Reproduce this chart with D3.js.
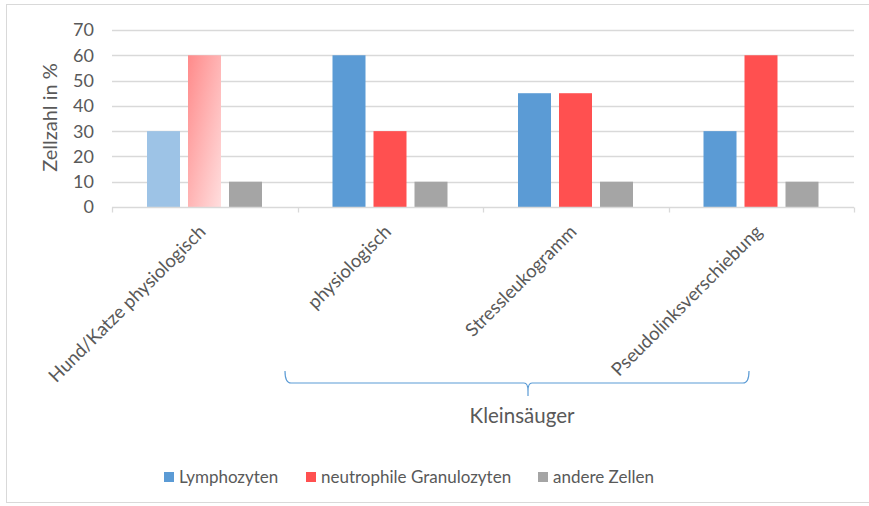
<!DOCTYPE html>
<html>
<head>
<meta charset="utf-8">
<script src="https://cdn.jsdelivr.net/npm/d3@7"></script>
<style>
  html, body { margin: 0; padding: 0; background: #fff; }
  svg { display: block; }
  text { font-family: Lato, "Open Sans", sans-serif; fill: #595959; }
</style>
</head>
<body>
<svg id="chart" width="869" height="506"></svg>
<script>
// Differential blood count: share of cell types per group
const categories = ["Hund/Katze physiologisch", "physiologisch", "Stressleukogramm", "Pseudolinksverschiebung"];
const seriesNames = ["Lymphozyten", "neutrophile Granulozyten", "andere Zellen"];
const lymphozyten = [30, 60, 45, 30];
const neutrophile = [60, 30, 45, 60];
const andere = [10, 10, 10, 10];
const yTicks = [0, 10, 20, 30, 40, 50, 60, 70];
const groupLabel = "Kleinsäuger";
const yTitle = "Zellzahl in %";

const colors = ["#5B9BD5", "#FF5050", "#A5A5A5"];

const svg = d3.select("#chart");

// Outer chart frame
svg.append("rect")
  .attr("x", 6.5).attr("y", 4.5).attr("width", 870).attr("height", 498)
  .attr("fill", "none").attr("stroke", "#D9D9D9").attr("stroke-width", 1);

const plot = { left: 112, right: 854, top: 30, bottom: 207 };

const x = d3.scaleBand().domain(categories).range([plot.left, plot.right]);
// bars inside each category band: 33px wide, 8px apart, centred
const xInner = d3.scaleBand().domain(d3.range(seriesNames.length))
  .range([35, 150]).paddingInner(8 / 41).paddingOuter(0);
const y = d3.scaleLinear().domain([0, 70]).range([plot.bottom, plot.top]);

// Gradient for the highlighted neutrophil bar of the first group
const defs = svg.append("defs");
const grad = defs.append("linearGradient").attr("id", "pinkGrad")
  .attr("x1", "0%").attr("y1", "0%").attr("x2", "100%").attr("y2", "100%");
grad.append("stop").attr("offset", "0%").attr("stop-color", "#FF8A8A");
grad.append("stop").attr("offset", "100%").attr("stop-color", "#FFDEDE");

// Gridlines
svg.append("g").selectAll("line").data(yTicks.filter(t => t > 0)).join("line")
  .attr("x1", plot.left).attr("x2", plot.right)
  .attr("y1", d => Math.round(y(d)) + 0.5).attr("y2", d => Math.round(y(d)) + 0.5)
  .attr("stroke", "#D9D9D9").attr("stroke-width", 1.3);

// Y tick labels
svg.append("g").selectAll("text").data(yTicks).join("text")
  .attr("x", 94).attr("y", d => y(d)).attr("dy", "0.36em")
  .attr("text-anchor", "end").attr("font-size", 18).text(d => d);

// Y axis title
svg.append("text")
  .attr("transform", `translate(57,${(plot.top + plot.bottom) / 2 - 1}) rotate(-90)`)
  .attr("text-anchor", "middle").attr("font-size", 20).text(yTitle);

// Bars
const seriesData = [lymphozyten, neutrophile, andere];
categories.forEach((cat, ci) => {
  seriesData.forEach((vals, si) => {
    let fill = colors[si];
    if (ci === 0 && si === 0) fill = "#9DC3E6";
    if (ci === 0 && si === 1) fill = "url(#pinkGrad)";
    svg.append("rect")
      .attr("x", x(cat) + xInner(si))
      .attr("y", y(vals[ci]))
      .attr("width", xInner.bandwidth())
      .attr("height", y(0) - y(vals[ci]))
      .attr("fill", fill);
  });
});

// X axis line and ticks
const axisY = Math.round(y(0)) + 0.5;
svg.append("line").attr("x1", plot.left).attr("x2", plot.right)
  .attr("y1", axisY).attr("y2", axisY).attr("stroke", "#D9D9D9").attr("stroke-width", 1.3);
const tickXs = categories.map(c => x(c)).concat([plot.right]);
svg.append("g").selectAll("line").data(tickXs).join("line")
  .attr("x1", d => Math.round(d) + 0.5).attr("x2", d => Math.round(d) + 0.5)
  .attr("y1", axisY).attr("y2", axisY + 5)
  .attr("stroke", "#D9D9D9").attr("stroke-width", 1.3);

// Rotated category labels
svg.append("g").selectAll("text").data(categories).join("text")
  .attr("transform", d => `translate(${x(d) + x.bandwidth() / 2 + 2},${plot.bottom + 26}) rotate(-45)`)
  .attr("text-anchor", "end").attr("font-size", 18.5).text(d => d);

// Brace grouping the last three categories
const bx0 = 285, bx1 = 749;
const braceMid = 528;
const by = 383;
const brace = d3.path();
brace.moveTo(bx0, 371);
brace.quadraticCurveTo(bx0, by, bx0 + 6, by);
brace.lineTo(braceMid - 4, by);
brace.quadraticCurveTo(braceMid, by, braceMid, by + 8);
brace.lineTo(braceMid, by + 13);
brace.moveTo(braceMid, by + 8);
brace.quadraticCurveTo(braceMid, by, braceMid + 4, by);
brace.lineTo(bx1 - 6, by);
brace.quadraticCurveTo(bx1, by, bx1, 371);
svg.append("path").attr("d", brace.toString())
  .attr("fill", "none").attr("stroke", "#5B9BD5").attr("stroke-width", 1.2);

svg.append("text").attr("x", 522).attr("y", 423)
  .attr("text-anchor", "middle").attr("font-size", 20.5).text(groupLabel);

// Legend
const legendX = [164, 306, 538];
const lg = svg.append("g");
seriesNames.forEach((name, i) => {
  lg.append("rect").attr("x", legendX[i]).attr("y", 472).attr("width", 10).attr("height", 10)
    .attr("fill", colors[i]);
  lg.append("text").attr("x", legendX[i] + 15).attr("y", 483)
    .attr("font-size", 17).text(name);
});
</script>
</body>
</html>
